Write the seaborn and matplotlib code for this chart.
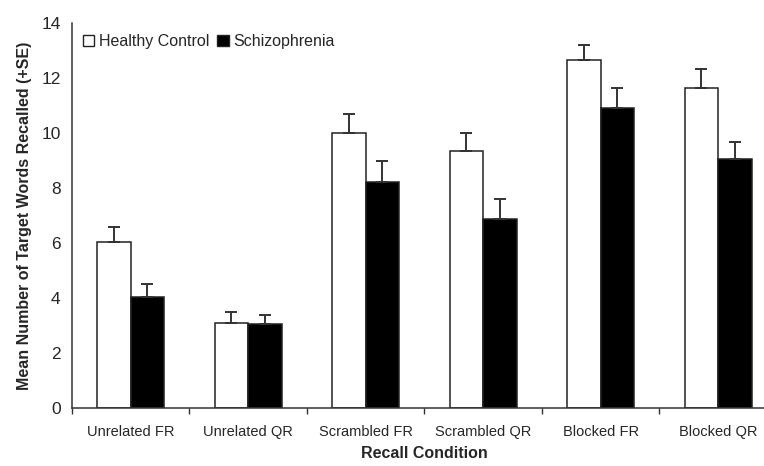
"""Bar chart of mean target words recalled per recall condition, by group"""

import numpy as np
import pandas as pd
import matplotlib
matplotlib.use('Agg')
import matplotlib.pyplot as plt
import seaborn as sns

# Data
conditions = ['Unrelated FR', 'Unrelated QR', 'Scrambled FR',
              'Scrambled QR', 'Blocked FR', 'Blocked QR']
groups = ['Healthy Control', 'Schizophrenia']
control_mean = [6.05, 3.11, 10.01, 9.36, 12.68, 11.63]
control_se = [0.55, 0.38, 0.69, 0.66, 0.52, 0.71]
schiz_mean = [4.04, 3.06, 8.24, 6.88, 10.92, 9.08]
schiz_se = [0.47, 0.34, 0.75, 0.73, 0.71, 0.59]
y_ticks = [0, 2, 4, 6, 8, 10, 12, 14]

df = pd.DataFrame({
    'condition': conditions * 2,
    'group': [groups[0]] * len(conditions) + [groups[1]] * len(conditions),
    'mean': control_mean + schiz_mean,
})

sns.set_style('white')
plt.rcParams['font.family'] = ['Liberation Sans', 'DejaVu Sans']

fig = plt.figure(figsize=(7.64, 4.66), dpi=100)
# the axis runs a little past the right edge of the picture
ax = fig.add_axes([0.094, 0.124, 0.923, 0.826])

sns.barplot(
    data=df, x='condition', y='mean', hue='group',
    order=conditions, hue_order=groups,
    palette={groups[0]: 'white', groups[1]: 'black'},
    edgecolor='#222222', linewidth=1.1, width=0.57,
    errorbar=None, ax=ax, legend=True
)

# upward-only error bars
for container, se in zip(ax.containers, [control_se, schiz_se]):
    xs = [p.get_x() + p.get_width() / 2 for p in container.patches]
    ys = [p.get_height() for p in container.patches]
    ax.errorbar(xs, ys, yerr=[np.zeros(len(se)), se], fmt='none',
                ecolor='#333333', elinewidth=1.4, capsize=4.5, capthick=1.4,
                zorder=1)

ax.set_ylim(0, 14)
ax.set_xlim(-0.5, len(conditions) - 0.5)
ax.set_yticks(y_ticks)
ax.set_yticklabels([str(t) for t in y_ticks], fontsize=12.5)
ax.set_xticks(np.arange(len(conditions)))
ax.set_xticklabels(conditions, fontsize=10.5)
ax.set_xticks(np.arange(len(conditions)) - 0.5, minor=True)
ax.tick_params(axis='x', which='major', length=0, pad=12)
ax.tick_params(axis='x', which='minor', length=4, width=1, color='#333333',
               direction='out', bottom=True)
ax.tick_params(axis='y', length=5, width=1, color='#333333', direction='out',
               pad=3)

for side in ['top', 'right']:
    ax.spines[side].set_visible(False)
for side in ['left', 'bottom']:
    ax.spines[side].set_color('#333333')
    ax.spines[side].set_linewidth(1.1)

ax.set_xlabel('Recall Condition', fontsize=11.5, fontweight='bold', labelpad=5)
ax.set_ylabel('Mean Number of Target Words Recalled (+SE)', fontsize=11.5,
              fontweight='bold', labelpad=7)

leg = ax.legend(loc='upper left', ncol=2, frameon=False, fontsize=11.5,
                handlelength=0.7, handleheight=0.7, handletextpad=0.3,
                columnspacing=0.5, borderaxespad=0.3,
                bbox_to_anchor=(0.0, 1.0))
for h in leg.legend_handles:
    h.set_edgecolor('#222222')
    h.set_linewidth(1.0)

fig.savefig('out.png', dpi=100)
